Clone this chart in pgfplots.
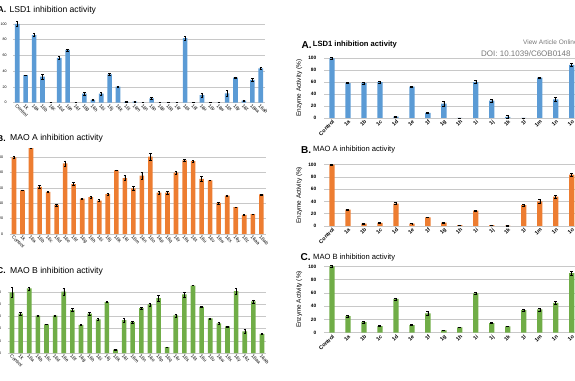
\documentclass[border=0pt]{standalone}
\usepackage{fontspec}
\setmainfont{Liberation Sans}
\usepackage{pgfplots}
\usepackage{pgfplotstable}
\pgfplotsset{compat=1.18}
\definecolor{xblue}{RGB}{91,155,213}
\definecolor{xorange}{RGB}{237,125,49}
\definecolor{xgreen}{RGB}{112,173,71}
\definecolor{gridc}{RGB}{200,200,200}
\definecolor{doigray}{RGB}{120,120,120}

% Left panels (compounds 16)
\pgfplotstableread{
x y e
0 100 3
1 35 0.5
2 86 2
3 33 3
4 0 0
5 57 1.5
6 67 1.5
7 0 0
8 11.5 1.5
9 3.5 0.5
10 11.5 1.5
11 36 1.5
12 20.5 1
13 1 1
14 1.5 0.5
15 0 0
16 5.5 1
17 0 0
18 0 0
19 0 0
20 82 2
21 0 0
22 9.5 3
23 0 0
24 0 0
25 12 3.5
26 32 1
27 2.5 1
28 29 1.5
29 43.5 1
}\lsdL
\pgfplotstableread{
x y e
0 100 1.5
1 57 0.5
2 112 0
3 61.5 1.5
4 55 0.5
5 38 1.2
6 92 3.5
7 65 2
8 46 0.5
9 48 1.5
10 43.5 1.2
11 52 0.8
12 83 0.5
13 73 3
14 59.5 3
15 76 4
16 101 4.5
17 54 2
18 54 2
19 80 2
20 96 1.5
21 95 1
22 72 3.5
23 70 0.3
24 40.5 1.2
25 50 1
26 35 0.3
27 25 0.5
28 26 0.3
29 51.5 0.5
}\maoaL
\pgfplotstableread{
x y e
0 100 8
1 65 2.5
2 106.5 2.5
3 61.5 0.8
4 47 0.3
5 61.5 1.5
6 101 5.5
7 71 2
8 46.5 0.3
9 65 2
10 55.5 2
11 84 1
12 5.5 0.5
13 54 3.5
14 51 1.5
15 74 1.5
16 80 2.5
17 90.5 4.5
18 9.5 0.5
19 62 2.5
20 96.5 4
21 111 0
22 76 1
23 57 1
24 49 1
25 44 0.8
26 102 4.5
27 35.5 3
28 85 2.5
29 31.5 0.3
}\maobL
% Right panels (compounds 1)
\pgfplotstableread{
x y e
0 100 1
1 58.5 1
2 58.5 1.5
3 60 1
4 2.5 1
5 52.5 0.5
6 8.5 1
7 24 3.5
8 0 0
9 60 2.5
10 29 2
11 2 3
12 0 0
13 67.5 0.5
14 31 3
15 89 2
}\lsdR
\pgfplotstableread{
x y e
0 100 1.5
1 26.6 1
2 4 0.5
3 5 0.3
4 36.5 1.5
5 4 0.3
6 14 0.5
7 5.5 0.5
8 1.5 0.3
9 25 1
10 1.5 0.3
11 0.5 0.3
12 34 1.5
13 40 3
14 48 2.5
15 84 2.5
}\maoaR
\pgfplotstableread{
x y e
0 100 1.5
1 25 1
2 16 1
3 10 0.5
4 51 1.5
5 11.5 0.5
6 29 3
7 3.5 0.5
8 8 0.5
9 59.5 1.5
10 14.5 1
11 9.5 0.5
12 34 2
13 35 2
14 45 2.5
15 90 3
}\maobR

\pgfplotsset{
  base/.style={
    scale only axis, anchor=south west,
    ymin=0, ymax=100, ytick={0,20,...,100},
    axis line style={draw=none},
    ymajorgrids, grid style={draw=gridc, line width=0.5pt},
    major tick length=0pt,
    /pgf/number format/assume math mode=true,
    clip=false, ybar,
  },
  leftp/.style={base,
    xmin=-0.5, xmax=29.5, xtick={0,...,29},
    xticklabels={Control,1k,16a,16b,16c,16d,16e,16f,16g,16h,16i,16j,16k,16l,16m,16n,16o,16p,16q,16r,16s,16t,16u,16v,16w,16x,16y,16z,16aa,16ab},
    xticklabel style={rotate=-45, anchor=north west, inner sep=0.6pt, font=\fontsize{4.8}{5}\selectfont},
    yticklabel style={font=\fontsize{3.6}{4}\selectfont, xshift=-3pt},
  },
  rightp/.style={base,
    xmin=-0.5, xmax=15.5, xtick={0,...,15},
    xticklabels={Control,1a,1b,1c,1d,1e,1f,1g,1h,1i,1j,1k,1l,1m,1n,1o},
    xticklabel style={rotate=45, anchor=north east, inner sep=1pt, font=\bfseries\fontsize{5.4}{6}\selectfont},
    yticklabel style={font=\bfseries\fontsize{4.8}{5}\selectfont, xshift=-4.2pt},
    ylabel={Enzyme Activity (\%)},
    every axis y label/.style={at={(axis description cs:-0.0966,0.5)}, rotate=90, anchor=center, font=\fontsize{6.4}{7}\selectfont},
  },
  barsL/.style={fill=#1, draw=none, bar width=4.6pt,
    error bars/.cd, y dir=both, y explicit,
    error bar style={black, line width=0.45pt},
    error mark options={rotate=90, black, mark size=1.2pt, line width=0.45pt}},
  barsR/.style={fill=#1, draw=none, bar width=5.3pt,
    error bars/.cd, y dir=both, y explicit,
    error bar style={black, line width=0.5pt},
    error mark options={rotate=90, black, mark size=1.5pt, line width=0.5pt}},
}

\begin{document}
\begin{tikzpicture}
\useasboundingbox (0,0) rectangle (575pt,380pt);

% ---- Left column ----
\begin{axis}[leftp, at={(13.1pt,277.3pt)}, width=251.8pt, height=78.7pt]
\addplot[barsL=xblue] table[x=x,y=y,y error=e]{\lsdL};
\end{axis}
\begin{axis}[leftp, at={(9.7pt,146pt)}, width=255.9pt, height=76.7pt]
\addplot[barsL=xorange] table[x=x,y=y,y error=e]{\maoaL};
\end{axis}
\begin{axis}[leftp, at={(7.7pt,27pt)}, width=258.6pt, height=60.7pt]
\addplot[barsL=xgreen] table[x=x,y=y,y error=e]{\maobL};
\end{axis}

% ---- Right column ----
\begin{axis}[rightp, at={(324pt,262pt)}, width=255.7pt, height=59.7pt]
\addplot[barsR=xblue] table[x=x,y=y,y error=e]{\lsdR};
\end{axis}
\begin{axis}[rightp, at={(324pt,154pt)}, width=255.7pt, height=61.3pt]
\addplot[barsR=xorange] table[x=x,y=y,y error=e]{\maoaR};
\end{axis}
\begin{axis}[rightp, at={(324pt,47.3pt)}, width=255.7pt, height=66.3pt]
\addplot[barsR=xgreen] table[x=x,y=y,y error=e]{\maobR};
\end{axis}

% ---- Titles ----
\node[anchor=west, inner sep=0pt, font=\bfseries\fontsize{8.5}{9}\selectfont] at (-2.5pt,370pt) {A.};
\node[anchor=west, inner sep=0pt, font=\fontsize{8.6}{9}\selectfont] at (9.3pt,370pt) {LSD1 inhibition activity};
\node[anchor=west, inner sep=0pt, font=\bfseries\fontsize{8.5}{9}\selectfont] at (-3pt,241.7pt) {B.};
\node[anchor=west, inner sep=0pt, font=\fontsize{8.6}{9}\selectfont] at (10pt,241.7pt) {MAO A inhibition activity};
\node[anchor=west, inner sep=0pt, font=\bfseries\fontsize{8.5}{9}\selectfont] at (-3pt,109pt) {C.};
\node[anchor=west, inner sep=0pt, font=\fontsize{8.6}{9}\selectfont] at (10pt,109pt) {MAO B inhibition activity};

\node[anchor=west, inner sep=0pt, font=\bfseries\fontsize{10}{11}\selectfont] at (301.5pt,335pt) {A.};
\node[anchor=west, inner sep=0pt, font=\bfseries\fontsize{7.6}{8}\selectfont] at (312.7pt,335pt) {LSD1 inhibition activity};
\node[anchor=west, inner sep=0pt, font=\bfseries\fontsize{10}{11}\selectfont] at (301pt,230pt) {B.};
\node[anchor=west, inner sep=0pt, font=\fontsize{7.6}{8}\selectfont] at (313pt,230pt) {MAO A inhibition activity};
\node[anchor=west, inner sep=0pt, font=\bfseries\fontsize{10}{11}\selectfont] at (300.5pt,122.7pt) {C.};
\node[anchor=west, inner sep=0pt, font=\fontsize{7.6}{8}\selectfont] at (313pt,122.7pt) {MAO B inhibition activity};

\node[anchor=west, inner sep=0pt, text=doigray, font=\fontsize{6.5}{7}\selectfont] at (523pt,338pt) {View Article Online};
\node[anchor=west, inner sep=0pt, text=doigray, font=\fontsize{8}{9}\selectfont] at (481pt,326pt) {DOI: 10.1039/C6OB0148};
\end{tikzpicture}
\end{document}
